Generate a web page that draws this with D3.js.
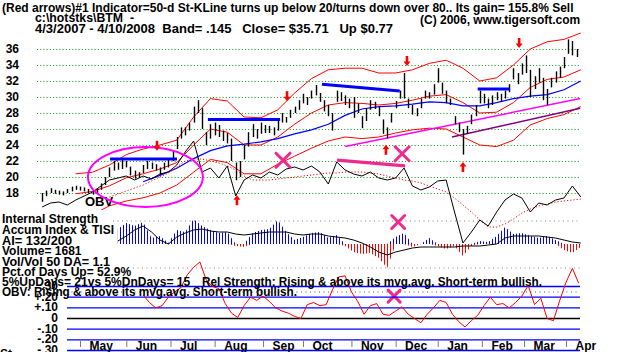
<!DOCTYPE html>
<html><head><meta charset="utf-8">
<script src="https://cdn.jsdelivr.net/npm/d3@7"></script>
<style>
body{margin:0;background:#fff;}
svg{display:block;}
text{font-family:"Liberation Sans",Arial,sans-serif;font-weight:bold;fill:#000;white-space:pre;}
</style>
</head><body>
<svg id="c" width="636" height="352"></svg>
<script>
// ---------------- DATA ----------------
// trading-day index 0 = 4/3/2007 ... 257 = 4/10/2008
const monthTickDays = [19,41,62,83,106,125,148,169,189,210,230,250];
const monthLabels = ["May","Jun","Jul","Aug","Sep","Oct","Nov","Dec","Jan","Feb","Mar","Apr"];
const priceTicks = [36,34,32,30,28,26,24,22,20,18];
const itrsTicks = [0.3,0.2,0.1,0,-0.1,-0.2,-0.3];
const itrsTickLabels = [".30","+.20","+.10","0","-.10","-.20","-.30"];

// price bars, every 2nd trading day
const barDays = d3.range(1, 257, 2);
const barHigh = [18.0,18.3,18.6,18.4,18.3,18.2,18.5,18.8,18.9,18.8,18.7,18.5,
 18.3,18.6,19.2,20.0,21.2,22.0,21.8,22.2,22.0,21.3,20.8,20.6,
 21.5,22.0,21.8,21.6,21.2,21.8,22.2,23.3,25.0,26.2,26.2,26.8,
 28.8,29.6,28.6,25.6,26.6,26.8,26.5,25.8,25.5,24.8,21.8,22.0,
 24.0,25.6,26.6,26.0,26.8,26.5,26.4,26.2,27.0,28.0,27.5,28.4,
 28.8,29.6,30.4,30.0,30.8,31.5,30.5,29.6,29.0,28.0,30.8,30.6,
 30.2,29.8,30.0,29.2,27.6,28.6,29.6,29.4,28.8,27.2,26.2,28.0,
 29.5,30.8,33.0,29.8,29.0,28.6,29.8,30.8,30.6,31.6,33.6,31.8,
 30.8,29.8,27.6,26.8,26.0,26.4,27.8,29.0,30.8,30.4,29.8,30.2,
 30.6,30.4,30.8,31.6,33.6,33.0,34.2,35.2,33.4,32.6,33.6,32.4,
 31.0,32.4,33.2,33.8,35.0,37.2,37.0,36.0];
const barLow = [16.9,17.6,18.0,17.9,17.8,17.7,18.0,18.2,18.4,18.3,18.2,18.0,
 17.8,18.0,18.4,19.0,20.0,20.8,20.9,21.0,21.2,20.2,19.8,19.9,
 20.5,21.0,21.0,20.8,20.3,20.9,21.2,22.0,23.5,24.8,25.2,25.8,
 26.8,28.0,26.0,24.0,24.8,25.2,25.0,24.5,24.2,22.0,19.6,20.0,
 22.2,23.8,25.0,24.8,25.4,25.5,25.5,25.2,25.8,26.8,26.8,27.4,
 28.0,28.4,29.2,29.0,29.8,30.2,29.4,28.2,27.6,25.8,29.4,29.5,
 29.0,28.6,27.4,28.0,26.1,27.0,28.4,28.5,27.6,25.4,24.8,26.8,
 28.6,29.8,29.8,28.6,27.8,27.6,28.6,29.8,29.8,30.3,31.8,30.4,
 29.2,29.0,26.6,25.6,22.8,25.4,26.6,27.6,29.2,29.2,28.6,29.0,
 29.6,29.4,29.8,30.6,32.2,31.6,32.8,33.0,30.0,31.0,31.8,29.6,
 29.0,31.2,31.8,32.4,33.6,35.4,35.2,35.0];

// 21-day MA and bands (.145), every 8th trading day
const bandDays = d3.range(17, 258, 8);
const bandUpper = [20.4,20.6,21.5,22.8,23.5,24.0,24.6,27.5,29.8,29.5,27.5,27.4,28.4,30.5,32.3,33.4,33.6,33.6,33.0,33.0,33.4,34.2,34.6,33.6,32.0,32.4,34.0,36.0,36.9,37.2,38.0];
const bandMid   = [17.9,18.2,18.9,19.9,20.4,21.0,21.8,24.0,26.0,25.6,24.0,24.0,25.0,26.6,28.0,29.0,29.3,29.2,29.0,29.2,29.6,30.1,30.3,29.3,28.0,28.1,29.3,31.2,32.2,32.5,33.4];
const bandLower = [15.0,15.3,16.4,17.0,17.4,18.0,19.0,20.6,22.2,21.8,20.4,20.4,21.6,22.6,23.6,24.5,25.0,24.8,25.0,25.5,25.9,26.1,26.0,25.0,24.0,23.8,24.6,26.5,27.3,27.8,28.8];
// 50-day MA
const ma50Days = d3.range(49, 258, 8);
const ma50 = [19.4,20.2,21.1,22.3,23.3,23.9,24.1,24.4,24.8,25.4,25.9,26.6,27.7,28.5,28.8,28.9,29.1,29.4,29.3,28.9,28.9,29.3,29.8,30.1,30.3,30.9,32.0];

// OBV (arbitrary units) and its moving average, every 4th trading day
const obvDays = d3.range(1, 258, 4);
const obv = [43,47,48,45,50,54,58,64,70,72,74,70,74,71,76,78,85,98,109,78,82,72,84,54,70,75,72,78,75,81,83,80,84,78,66,88,80,76,74,78,72,70,72,82,64,60,63,69,70,38,7,18,30,24,38,50,56,52,38,47,45,50,52,64,53];
const obvMaDays = d3.range(33, 258, 4);
const obvMa = [53,56,59,62,65,69,73,77,83,89,91,91,89,87,84,80,74,70,70,70,71,72,73,74,75,76,77,77,78,78,78,77,76,74,72,70,69,67,64,61,58,52,45,38,30,23,23,26,31,37,41,44,46,48,49,50,51];

// Accumulation Index histogram and TISI line
const aiDays = d3.range(37, 258, 4);
const accumIndex = [15,21,18,22,6,8,1,14,12,25,18,14,11,12,-2,-3,11,14,15,24,12,4,7,11,12,6,9,-2,-8,-10,-9,-14,-24,7,11,-3,0,6,-2,-5,-2,-12,-2,3,2,8,17,10,11,8,6,8,4,-6,-9,-3];
const tisi = [3,8,14,18,12,4,0,7,11,14,15,13,12,12,10,9,10,11,12,12,12,10,9,10,10,8,7,6,4,1,-3,-8,-11,-8,-6,-4,-3,-3,-3,-3,-3,-2,-2,-2,-1,0,6,8,8,8,8,7,6,4,2,1];

// ITRS, every 3rd trading day
const itrsDays = d3.range(49, 257, 3);
const itrs = [0.22,0.15,0.10,0.12,0.20,0.25,0.29,0.41,0.48,0.53,0.36,0.30,0.28,0.14,0.05,0.01,0.12,0.20,0.17,0.21,
 0.16,0.10,0.07,0.05,0.02,0.00,0.13,0.15,0.12,0.13,0.27,0.39,0.40,0.25,0.16,0.04,0.12,0.14,0.04,0.03,
 0.07,0.11,0.04,0.00,-0.04,0.04,0.10,0.17,0.15,0.04,-0.03,-0.08,-0.02,0.03,0.12,0.20,0.13,0.14,0.10,0.15,
 0.21,0.31,0.13,0.19,0.00,-0.02,0.17,0.34,0.47,0.33];

// annotations (trading day, price)
const sellArrows = [[55.6,23.9],[117.4,30.1],[174.4,34.5],[227.7,36.75]];
const buyArrows = [[93.6,17.1],[164.4,23.4],[201,21.25]];
const resistanceLines = [[[33.3,22.25],[65.1,22.25]],[[79.8,27.2],[114.1,27.2]],[[134,31.6],[171,30.75]],[[208,31.0],[223.4,31.0]]];
const magentaTrend = [[145,23.8],[256.7,29.8]];
const purpleTrend = [[195.8,25.0],[256.7,28.6]];
const pinkLine = [[141.2,22.1],[173.5,21.4]];
const ellipseAnno = {day:50.1, price:20.0, dayR:27.3, priceR:3.75};
const priceX = [[115.5,22.1],[172.1,22.9]];
const aiX = [[170.2,22]];
const itrsX = [[168.3,0.21]];

const titleText = "(Red arrows)#1 Indicator=50-d St-KLine turns up below 20/turns down over 80.. Its gain= 155.8% Sell";
const fileText = "c:\\hotstks\\BTM  -";
const infoText = "4/3/2007 - 4/10/2008  Band= .145   Close= $35.71   Up $0.77";
const copyText = "(C) 2006, www.tigersoft.com";
const leftTexts = ["Internal Strength","Accum Index & TISI","AI= 132/200","Volume= 1681","Vol/Vol 50 DA= 1.1","Pct.of Days Up= 52.9%"];
const upDaysText = "5%UpDays= 21vs 5%DnDays= 15";
const relText = "Rel Strength: Rising & above its mvg.avg. Short-term bullish.";
const obvText = "OBV: Rising & above its mvg.avg. Short-term bullish.";

// ---------------- DRAW ----------------
const svg = d3.select("#c");
svg.append("rect").attr("width",636).attr("height",352).attr("fill","#fff");

const x = d3.scaleLinear().domain([0,257]).range([40,580.8]);
const yP = d3.scaleLinear().domain([18,36]).range([193,49]);
const yO = d3.scaleLinear().domain([0,120]).range([250,130]);
const yA = d3.scaleLinear().domain([-30,30]).range([274,214]);
const yI = d3.scaleLinear().domain([-0.3,0.3]).range([350.5,286.5]);

const defs = svg.append("defs");
const mkHatch = (id,col)=>{
  const p = defs.append("pattern").attr("id",id).attr("width",3).attr("height",3).attr("patternUnits","userSpaceOnUse");
  p.append("rect").attr("x",0).attr("y",0).attr("width",1).attr("height",3).attr("fill",col);
};
mkHatch("hb","#0000ff"); mkHatch("hr","#ff0000");
defs.append("clipPath").attr("id","pclip").append("rect").attr("x",0).attr("y",0).attr("width",636).attr("height",210);

// price grid + labels via axis
const pAxis = svg.append("g").attr("transform","translate(37,0)")
  .call(d3.axisLeft(yP).tickValues(priceTicks).tickSize(-543).tickPadding(18).tickFormat(d3.format("d")));
pAxis.select(".domain").remove();
pAxis.selectAll("line").attr("stroke","#119911").attr("stroke-dasharray","1,2.2");
pAxis.selectAll("text").attr("font-size",12).style("font-family","Liberation Sans, Arial, sans-serif").style("font-weight","bold").attr("fill","#000");

// lower-panel dotted lines
[[113,221,"#888"],[133,268,"#a08080"],[58,292,"#555"]].forEach(([x0,yy,c])=>{
  svg.append("line").attr("x1",x0).attr("x2",580).attr("y1",yy).attr("y2",yy)
    .attr("stroke",c).attr("stroke-dasharray","1,3.5");
});

const line = (xs, ys, fx, fy) => d3.line().defined(d=>d[1]!=null).x(d=>x(d[0])).y(d=>fy(d[1]))(xs.map((dd,i)=>[dd,ys[i]]));

// bands
const pc = svg.append("g").attr("clip-path","url(#pclip)");
[bandUpper,bandMid,bandLower].forEach(arr=>{
  pc.append("path").attr("d",line(bandDays,arr,x,yP)).attr("fill","none").attr("stroke","#ff0000").attr("stroke-width",1);
});
pc.append("path").attr("d",line(ma50Days,ma50,x,yP)).attr("fill","none").attr("stroke","#0000ff").attr("stroke-width",1.2);

// trendlines
const seg = (pts,col,w)=> svg.append("line")
  .attr("x1",x(pts[0][0])).attr("y1",yP(pts[0][1])).attr("x2",x(pts[1][0])).attr("y2",yP(pts[1][1]))
  .attr("stroke",col).attr("stroke-width",w);
seg(magentaTrend,"#ff00ff",1.5);
seg(purpleTrend,"#800080",1.5);

// price bars
svg.append("g").selectAll("line").data(barDays).join("line")
  .attr("x1",d=>Math.round(x(d))+0.5).attr("x2",d=>Math.round(x(d))+0.5)
  .attr("y1",(d,i)=>yP(barHigh[i])).attr("y2",(d,i)=>yP(barLow[i]))
  .attr("stroke","#000").attr("stroke-width",1.4);

// OBV
svg.append("path").attr("d",line(obvMaDays,obvMa,x,yO)).attr("fill","none").attr("stroke","#ff0000").attr("stroke-width",1).attr("stroke-dasharray","1.2,2");
svg.append("path").attr("d",line(obvDays,obv,x,yO)).attr("fill","none").attr("stroke","#000").attr("stroke-width",1);
svg.append("text").attr("x",85).attr("y",206).attr("font-size",13).text("OBV");

// resistance lines
resistanceLines.forEach(p=>seg(p,"#0000ff",3));
seg(pinkLine,"#ee2b8c",3.2);

// ellipse
svg.append("ellipse").attr("cx",x(ellipseAnno.day)).attr("cy",yP(ellipseAnno.price))
  .attr("rx",x(ellipseAnno.day+ellipseAnno.dayR)-x(ellipseAnno.day))
  .attr("ry",yP(ellipseAnno.price-ellipseAnno.priceR)-yP(ellipseAnno.price))
  .attr("fill","none").attr("stroke","#ff00ff").attr("stroke-width",2);

// X marks
const drawX = (cx,cy,h)=>{
  const g = svg.append("g").attr("stroke","#ee2b8c").attr("stroke-width",3).attr("stroke-linecap","round");
  g.append("line").attr("x1",cx-h).attr("y1",cy-h).attr("x2",cx+h).attr("y2",cy+h);
  g.append("line").attr("x1",cx-h).attr("y1",cy+h).attr("x2",cx+h).attr("y2",cy-h);
};
priceX.forEach(d=>drawX(x(d[0]),yP(d[1]),7));
aiX.forEach(d=>drawX(x(d[0]),yA(d[1]),6.5));
itrsX.forEach(d=>drawX(x(d[0]),yI(d[1]),6));

// arrows
const arrow = (cx,cy,dir)=>{ // dir 1 = down, -1 = up
  const g = svg.append("g").attr("fill","#ff0000");
  g.append("rect").attr("x",cx-1.3).attr("y",dir>0?cy-5:cy-1).attr("width",2.6).attr("height",6);
  g.append("path").attr("d",`M${cx-3.5},${cy+dir*0.5} L${cx+3.5},${cy+dir*0.5} L${cx},${cy+dir*5} Z`);
};
sellArrows.forEach(d=>arrow(x(d[0]),yP(d[1]),1));
buyArrows.forEach(d=>arrow(x(d[0]),yP(d[1]),-1));

// AI histogram
const aiData = aiDays.map((d,i)=>[d,accumIndex[i]]);
svg.append("path").attr("d",d3.area().x(d=>x(d[0])).y0(yA(0)).y1(d=>yA(Math.max(0,d[1])))(aiData)).attr("fill","url(#hb)");
svg.append("path").attr("d",d3.area().x(d=>x(d[0])).y0(yA(0)).y1(d=>yA(Math.min(0,d[1])))(aiData)).attr("fill","url(#hr)");
svg.append("path").attr("d",line(aiDays,tisi,x,yA)).attr("fill","none").attr("stroke","#000").attr("stroke-width",1);

// ITRS grid
itrsTicks.forEach(v=>{
  svg.append("line").attr("x1",67).attr("x2",580).attr("y1",yI(v)).attr("y2",yI(v))
    .attr("stroke",v===0?"#000":"#0000ff").attr("stroke-width",1.3);
});
const iAxis = svg.append("g").attr("transform","translate(58,0)")
  .call(d3.axisLeft(yI).tickValues(itrsTicks).tickSize(0).tickPadding(0).tickFormat((d,i)=>itrsTickLabels[i]));
iAxis.select(".domain").remove();
iAxis.selectAll("text").attr("font-size",12).attr("dy","0.25em").style("font-family","Liberation Sans, Arial, sans-serif").style("font-weight","bold").attr("fill","#000");
svg.append("path").attr("d",line(itrsDays,itrs,x,yI)).attr("fill","none").attr("stroke","#ff0000").attr("stroke-width",1);

// month axis
const mAxis = svg.append("g").attr("transform","translate(0,341)")
  .call(d3.axisBottom(x).tickValues(monthTickDays).tickSize(6).tickFormat((d,i)=>monthLabels[i]));
mAxis.select(".domain").remove();
mAxis.selectAll("line").attr("stroke","#8a7a3a");
mAxis.selectAll("text").attr("font-size",12).attr("text-anchor","start").attr("x",9).attr("y",0).attr("dy",9)
  .style("font-family","Liberation Sans, Arial, sans-serif").style("font-weight","bold").attr("fill","#000");

// texts
const txt = (s,xx,yy,w,fs)=>{
  const t = svg.append("text").attr("x",xx).attr("y",yy).attr("font-size",fs||12).text(s);
  if (w) {
    const L = t.node().getComputedTextLength();
    if (Math.abs(L-w)/w > 0.02) t.attr("textLength",w).attr("lengthAdjust","spacingAndGlyphs");
  }
  return t;
};
txt(titleText,2,12,575);
txt(fileText,35,22,99);
txt(infoText,35,33,358);
txt(copyText,420,24,160);
const lw = [95,111,70,78,108,130];
const lb = [223,234,245,255,266,276];
leftTexts.forEach((s,i)=>txt(s,2,lb[i],lw[i]));
txt(upDaysText,2,286,188);
txt(relText,202,286,340);
txt(obvText,2,296,295);
txt("St",0,358);
</script>
</body></html>
